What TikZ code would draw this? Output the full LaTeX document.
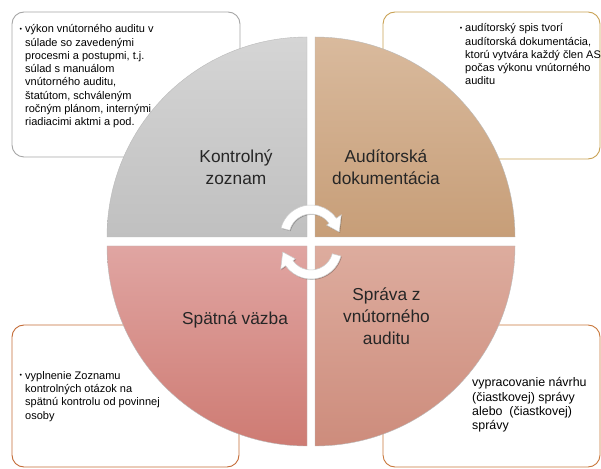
\documentclass[tikz,border=0pt]{standalone}
\usepackage{fontspec}
\setmainfont{Liberation Sans}
\usetikzlibrary{shadows}
\definecolor{boxgray}{HTML}{A6A6A6}
\definecolor{boxgold}{HTML}{C9A254}
\definecolor{boxrust}{HTML}{C46C38}
\definecolor{boxrust2}{HTML}{C9783C}
\definecolor{grayTop}{HTML}{D5D5D5}
\definecolor{grayBot}{HTML}{C0C0C0}
\definecolor{tanTop}{HTML}{D9BA9D}
\definecolor{tanBot}{HTML}{C79E78}
\definecolor{roseTop}{HTML}{E0A5A2}
\definecolor{roseBot}{HTML}{CE7B73}
\definecolor{salTop}{HTML}{DDAC9E}
\definecolor{salBot}{HTML}{CD8C7C}
\definecolor{textdark}{HTML}{262626}
\begin{document}
\begin{tikzpicture}[x=1pt,y=1pt,
  infobox/.style={rounded corners=12pt, fill=white, line width=0.9pt, anchor=south west, inner sep=0pt, outer sep=0pt},
  smalltext/.style={anchor=north west, inner sep=0pt, align=left, font=\fontsize{11}{13.3}\selectfont, text=black},
  bigtext/.style={align=center, inner sep=0pt, font=\fontsize{17.3}{22}\selectfont, text=textdark},
  quad/.style={draw=gray!55, line width=0.4pt},
  cyclearrow/.style={fill=white, draw=gray!40, line width=0.5pt,
     drop shadow={shadow xshift=0.8pt, shadow yshift=-0.8pt, opacity=0.25, fill=black}}
]
\useasboundingbox (0,0) rectangle (601,468);

% information boxes (behind the circle)
\node[infobox, draw=boxgray, minimum width=228, minimum height=145] (boxTL) at (12,311) {};
\node[infobox, draw=boxgold, minimum width=217, minimum height=147] (boxTR) at (383,309) {};
\node[infobox, draw=boxrust, minimum width=227, minimum height=142] (boxBL) at (12,1) {};
\node[infobox, draw=boxrust2, minimum width=217, minimum height=142] (boxBR) at (383,1) {};

% quadrants
\path[quad, top color=grayTop, bottom color=grayBot]
  (307,231) -- (307,431) arc[start angle=90, end angle=180, radius=200] -- cycle;
\path[quad, top color=tanTop, bottom color=tanBot]
  (315,231) -- (315,431) arc[start angle=90, end angle=0, radius=200] -- cycle;
\path[quad, top color=roseTop, bottom color=roseBot]
  (307,222) -- (107,222) arc[start angle=180, end angle=270, radius=200] -- cycle;
\path[quad, top color=salTop, bottom color=salBot]
  (315,222) -- (515,222) arc[start angle=0, end angle=-90, radius=200] -- cycle;

% cycle arrows
\begin{scope}[shift={(311,232)}]
  \path[cyclearrow] (165:31) arc[start angle=165, end angle=35, radius=31]
    -- (35:37) -- (8:28.5) -- (35:19) -- (35:22)
    arc[start angle=35, end angle=165, radius=22] -- cycle;
\end{scope}
\begin{scope}[shift={(311,220)}, rotate=180]
  \path[cyclearrow] (165:31) arc[start angle=165, end angle=35, radius=31]
    -- (35:37) -- (8:28.5) -- (35:19) -- (35:22)
    arc[start angle=35, end angle=165, radius=22] -- cycle;
\end{scope}

% quadrant labels
\node[bigtext] (lblTL) at (236,301) {Kontrolný\\zoznam};
\node[bigtext] (lblTR) at (386,301) {Audítorská\\dokumentácia};
\node[bigtext] (lblBL) at (235,148) {Spätná väzba};
\node[bigtext] (lblBR) at (386.5,152) {Správa z\\vnútorného\\auditu};

% box texts
\node[smalltext] (txtTL) at (25,443.5) {\llap{\fontsize{7}{7}\selectfont\raisebox{1.5pt}{•}\hspace{3pt}}výkon vnútorného auditu v\\
súlade so zavedenými\\procesmi a postupmi, t.j.\\súlad s manuálom\\vnútorného auditu,\\
štatútom, schváleným\\ročným plánom, internými\\riadiacimi aktmi a pod.};
\node[smalltext] (txtTR) at (465,444.5) {\llap{\fontsize{7}{7}\selectfont\raisebox{1.5pt}{•}\hspace{3pt}}audítorský spis tvorí\\
audítorská dokumentácia,\\ktorú vytvára každý člen AS\\počas výkonu vnútorného\\auditu};
\node[smalltext] (txtBL) at (25,97) {\llap{\fontsize{7}{7}\selectfont\raisebox{1.5pt}{•}\hspace{3pt}}vyplnenie Zoznamu\\
kontrolných otázok na\\spätnú kontrolu od povinnej\\osoby};
\node[smalltext, font=\fontsize{12.4}{14.3}\selectfont] (txtBR) at (472,90.5) {vypracovanie návrhu\\(čiastkovej) správy\\alebo~ (čiastkovej)\\správy};
\end{tikzpicture}
\end{document}
